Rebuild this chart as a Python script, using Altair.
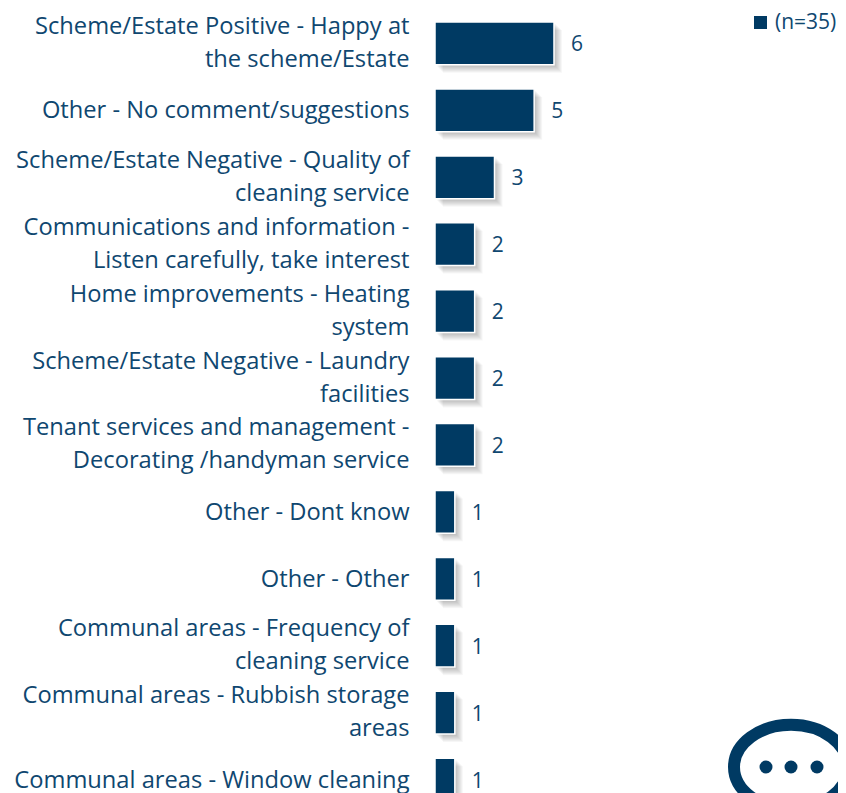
import altair as alt
import pandas as pd

categories = [
    "Scheme/Estate Positive - Happy at|the scheme/Estate",
    "Other - No comment/suggestions",
    "Scheme/Estate Negative - Quality of|cleaning service",
    "Communications and information -|Listen carefully, take interest",
    "Home improvements - Heating|system",
    "Scheme/Estate Negative - Laundry|facilities",
    "Tenant services and management -|Decorating /handyman service",
    "Other - Dont know",
    "Other - Other",
    "Communal areas - Frequency of|cleaning service",
    "Communal areas - Rubbish storage|areas",
    "Communal areas - Window cleaning",
]
values = [6, 5, 3, 2, 2, 2, 2, 1, 1, 1, 1, 1]
series_name = "(n=35)"

NAVY = "#003a63"
TEXT = "#0f4770"
FONT = "Open Sans"

df = pd.DataFrame({"cat": categories, "v": values, "s": series_name})

x = alt.X("v:Q", axis=None, scale=alt.Scale(domain=[0, 20.32], nice=False, zero=True))
y = alt.Y(
    "cat:N",
    sort=categories,
    title=None,
    scale=alt.Scale(paddingInner=0.36, paddingOuter=0.18, range=[0, 803]),
    axis=alt.Axis(
        domain=False, ticks=False, grid=False, labelPadding=26,
        labelExpr="split(datum.value, '|')",
        labelFont=FONT, labelFontSize=23.7, labelColor=TEXT, labelLimit=0,
        labelAlign="right", labelBaseline="middle", labelLineHeight=33,
        labelOffset={"condition": {"test": "indexof(datum.value, '|') >= 0", "value": -16.5}, "value": 1},
    ),
)

base = alt.Chart(df)
shadows = [
    base.mark_bar(color="#000000", opacity=0.035, xOffset=d, yOffset=d).encode(x=x, y=y)
    for d in (2, 3, 4, 5, 6, 7, 8)
]
bars = base.mark_bar(stroke="#ffffff", strokeWidth=1.5).encode(
    x=x, y=y,
    color=alt.Color(
        "s:N",
        scale=alt.Scale(domain=[series_name], range=[NAVY]),
        legend=alt.Legend(
            title=None, orient="none", legendX=315, legendY=2,
            symbolType="square", symbolSize=169, symbolStrokeWidth=0,
            labelFont=FONT, labelFontSize=21, labelColor=TEXT, labelOffset=4,
            padding=0,
        ),
    ),
)
labels = base.mark_text(align="left", baseline="middle", dx=17, dy=2, font=FONT, fontSize=21, color=TEXT).encode(
    x=x, y=y, text="v:Q"
)

ring = alt.Chart(pd.DataFrame({"k": ["a"]})).mark_point(
    shape="M-1,0A1,.74 0 1 1 1,0A1,.74 0 1 1 -1,0Z",
    size=12996, filled=False, stroke=NAVY, strokeWidth=12, opacity=1,
).encode(x=alt.value(356), y=alt.value(757))
dots = alt.Chart(pd.DataFrame({"d": [331, 356, 382]})).mark_point(
    shape="circle", size=169, filled=True, color=NAVY, opacity=1
).encode(x=alt.X("d:Q", scale=None), y=alt.value(757))

chart = alt.layer(*shadows, bars, labels, ring, dots).resolve_scale(x="shared").properties(
    width=403, height=803,
    autosize=alt.AutoSizeParams(type="none"),
    padding={"left": 427, "top": 2, "right": 0, "bottom": 0},
).configure_view(stroke=None)

chart.save("out.html", embed_options={"renderer": "svg", "actions": False})
